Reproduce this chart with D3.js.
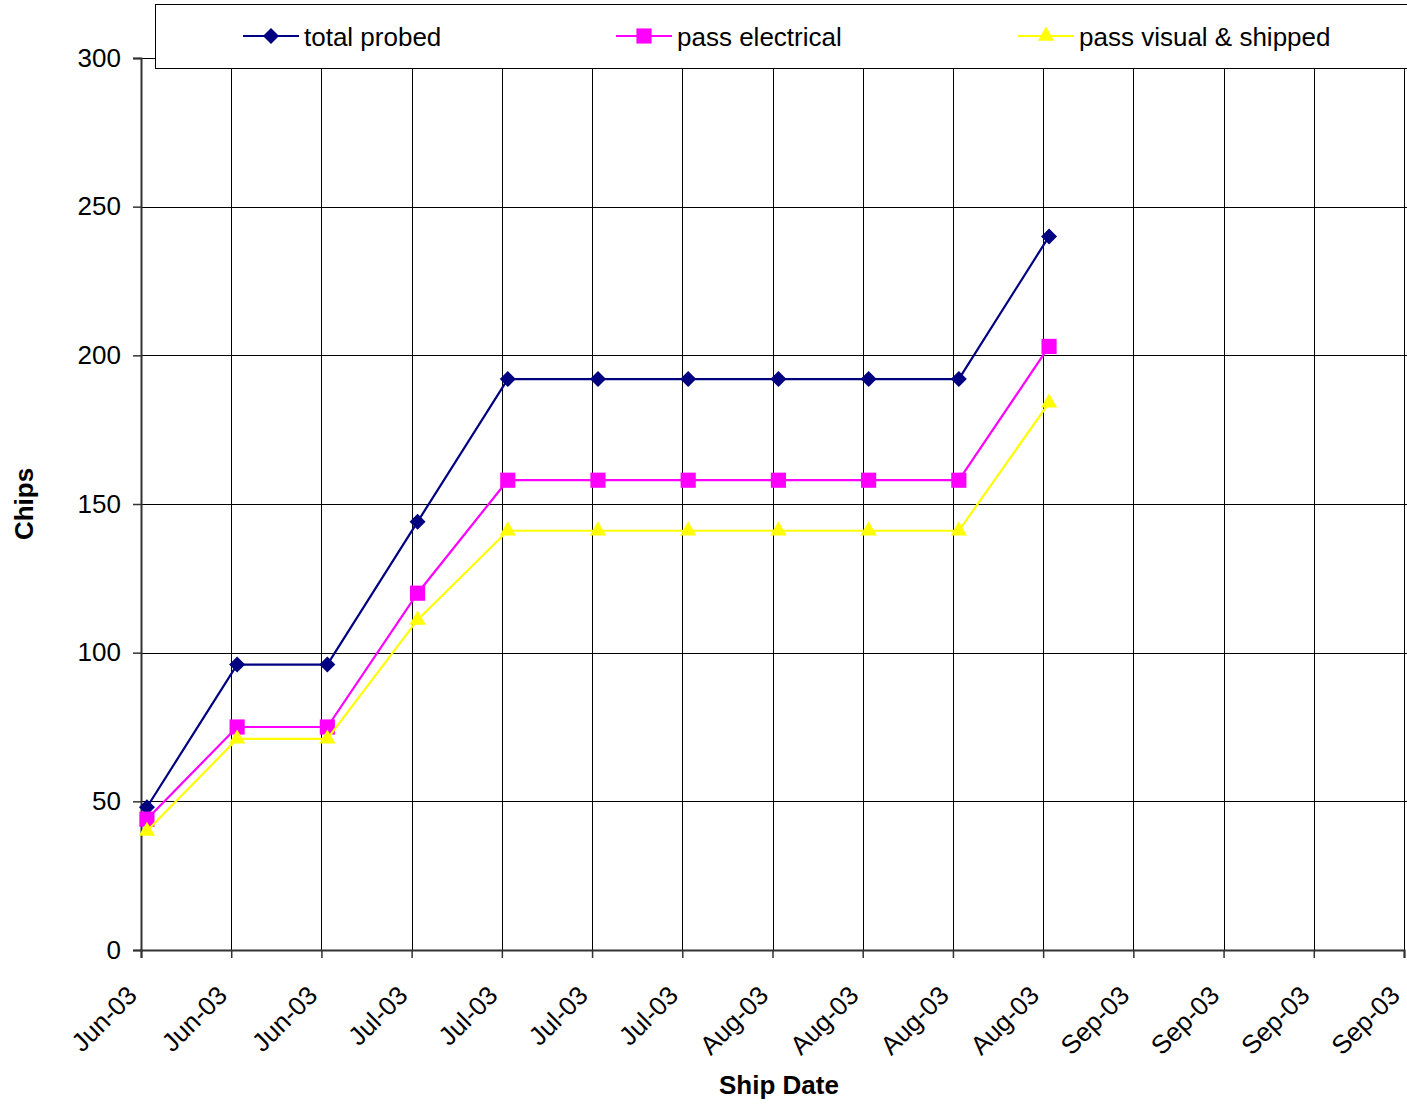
<!DOCTYPE html>
<html><head><meta charset="utf-8">
<script src="https://cdn.jsdelivr.net/npm/d3@7"></script>
<style>body{margin:0;background:#fff;} text{font-family:"Liberation Sans",Arial,sans-serif;}</style>
</head><body>
<svg id="chart" width="1407" height="1104"></svg>
<script>
// Data
const shipDates = ["2003-06-16T11:00","2003-06-23T11:00","2003-06-30T11:00","2003-07-07T11:00","2003-07-14T11:00","2003-07-21T11:00","2003-07-28T11:00","2003-08-04T11:00","2003-08-11T11:00","2003-08-18T11:00","2003-08-25T11:00"];
const totalProbed = [48, 96, 96, 144, 192, 192, 192, 192, 192, 192, 240];
const passElectrical = [44, 75, 75, 120, 158, 158, 158, 158, 158, 158, 203];
const passVisualShipped = [40, 71, 71, 111, 141, 141, 141, 141, 141, 141, 184];
const seriesNames = ["total probed", "pass electrical", "pass visual & shipped"];
const xTickDates = ["2003-06-16","2003-06-23","2003-06-30","2003-07-07","2003-07-14","2003-07-21","2003-07-28","2003-08-04","2003-08-11","2003-08-18","2003-08-25","2003-09-01","2003-09-08","2003-09-15","2003-09-22"];
const yTicks = [0, 50, 100, 150, 200, 250, 300];

(function () {
const svg = d3.select("#chart");
const pL = 141, pR = 1404, pT = 58, pB = 950;
const FS = 26;
const parse = s => new Date(s + (s.length === 10 ? "T00:00Z" : "Z"));
const x = d3.scaleUtc().domain([parse(xTickDates[0]), parse(xTickDates[xTickDates.length-1])]).range([pL, pR]);
const y = d3.scaleLinear().domain([0, 300]).range([pB, pT]);

// gridlines
const g = svg.append("g");
g.selectAll(".hg").data(yTicks.filter(d => d > 0)).join("line")
  .attr("x1", pL).attr("x2", pR + 3).attr("y1", d => Math.round(y(d)) + 0.5).attr("y2", d => Math.round(y(d)) + 0.5)
  .attr("stroke", "#000").attr("stroke-width", 1);
g.selectAll(".vg").data(xTickDates.slice(1)).join("line")
  .attr("x1", d => Math.round(x(parse(d))) + 0.5).attr("x2", d => Math.round(x(parse(d))) + 0.5)
  .attr("y1", pT).attr("y2", pB)
  .attr("stroke", "#000").attr("stroke-width", 1);

// axes
const yAxis = d3.axisLeft(y).tickValues(yTicks).tickSize(8).tickPadding(12);
const ya = svg.append("g").attr("transform", `translate(${pL},0)`).call(yAxis);
ya.select(".domain").attr("stroke", "#333").attr("stroke-width", 2);
ya.selectAll(".tick line").attr("stroke", "#333").attr("stroke-width", 1.5);
ya.selectAll("text").attr("font-size", FS).attr("fill", "#000").attr("font-family", "Liberation Sans, Arial, sans-serif");

const xAxis = d3.axisBottom(x).tickValues(xTickDates.map(parse)).tickFormat(d3.utcFormat("%b-%y")).tickSize(8).tickPadding(4);
const xa = svg.append("g").attr("transform", `translate(0,${pB})`).call(xAxis);
xa.select(".domain").attr("stroke", "#333").attr("stroke-width", 2);
xa.selectAll(".tick line").attr("stroke", "#333").attr("stroke-width", 1.5);
xa.selectAll("text").attr("font-size", FS).attr("fill", "#000").attr("font-family", "Liberation Sans, Arial, sans-serif")
  .attr("text-anchor", "end").attr("dy", null).attr("y", 0)
  .attr("transform", "translate(-3,47) rotate(-45)");

// axis titles
svg.append("text").attr("x", 779).attr("y", 1094).attr("text-anchor", "middle")
  .attr("font-size", FS).attr("font-weight", "bold").text("Ship Date");
svg.append("text").attr("transform", "translate(33,504) rotate(-90)").attr("text-anchor", "middle")
  .attr("font-size", FS).attr("font-weight", "bold").text("Chips");

// series
const colors = ["#000080", "#ff00ff", "#ffff00"];
const seriesVals = [totalProbed, passElectrical, passVisualShipped];
const symbols = [d3.symbolSquare, d3.symbolSquare, d3.symbolTriangle];
const symSizes = [128, 230, 115];
const symRot = [45, 0, 0];
const line = d3.line().x(d => x(d.date)).y(d => y(d.v));
seriesVals.forEach((vals, i) => {
  const pts = vals.map((v, j) => ({date: parse(shipDates[j]), v}));
  svg.append("path").datum(pts).attr("d", line).attr("fill", "none").attr("stroke", colors[i]).attr("stroke-width", 2.2);
  svg.selectAll(".m" + i).data(pts).join("path")
    .attr("transform", d => `translate(${x(d.date)},${y(d.v)}) rotate(${symRot[i]})`)
    .attr("d", d3.symbol(symbols[i], symSizes[i])).attr("fill", colors[i]);
});

// legend
const lg = svg.append("g");
lg.append("rect").attr("x", 155.5).attr("y", 4.5).attr("width", 1300).attr("height", 64)
  .attr("fill", "#fff").attr("stroke", "#000").attr("stroke-width", 1);
const legendX = [243, 616, 1018];
seriesNames.forEach((name, i) => {
  const lx = legendX[i];
  lg.append("line").attr("x1", lx).attr("x2", lx + 56).attr("y1", 36).attr("y2", 36).attr("stroke", colors[i]).attr("stroke-width", 2.2);
  lg.append("path").attr("transform", `translate(${lx + 28},36) rotate(${symRot[i]})`).attr("d", d3.symbol(symbols[i], symSizes[i])).attr("fill", colors[i]);
  lg.append("text").attr("x", lx + 61).attr("y", 46).attr("font-size", FS).text(name);
});
})();
</script>
</body></html>
